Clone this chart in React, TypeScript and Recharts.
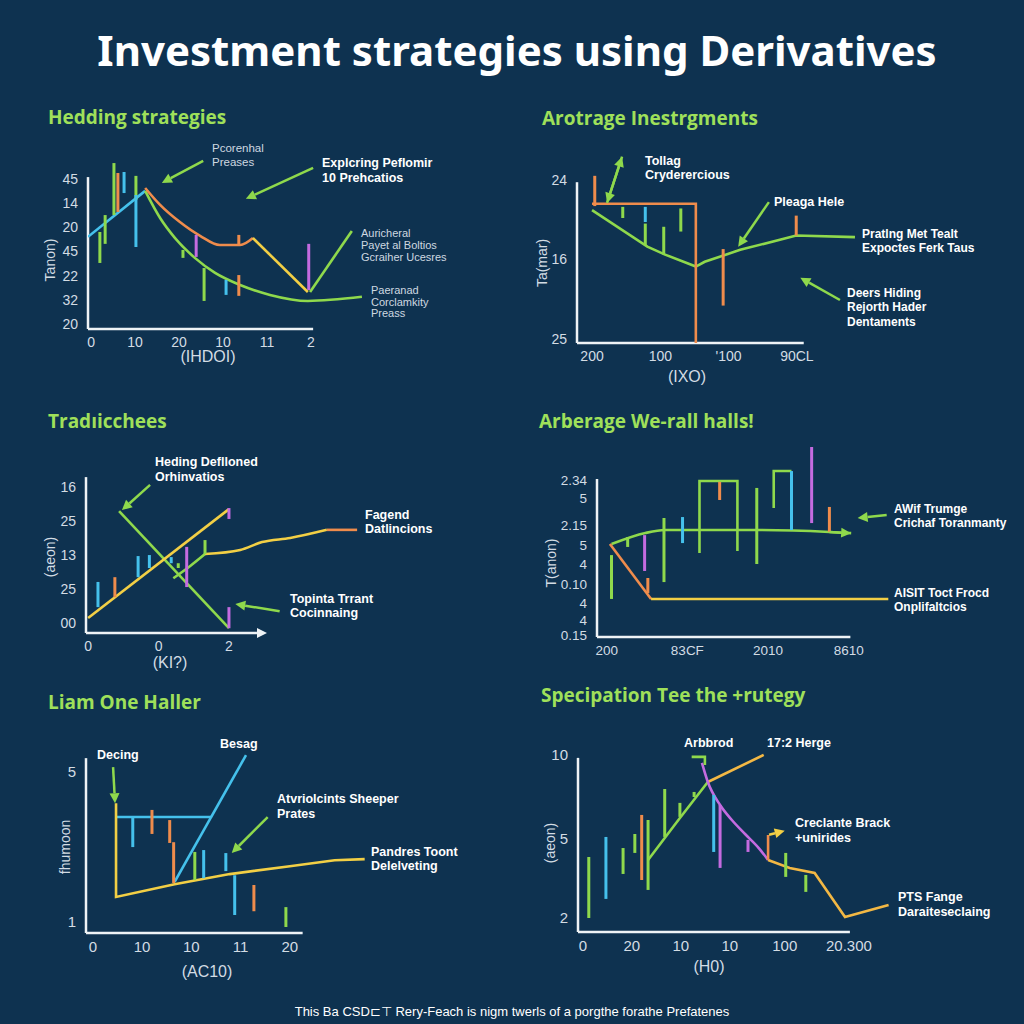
import React from "react";
import { ComposedChart, Line, XAxis, YAxis, ReferenceLine } from "recharts";

type Pt = { x: number; y: number };
type Seg = [number, number, number]; // x, from, to
type Arrow = [number, number, number, number]; // x1, y1 -> x2, y2 (head at the end)

const BG = "#0e3250";
const GREEN = "#8fd94c";
const BLUE = "#45c1ec";
const ORANGE = "#ef8c4c";
const YELLOW = "#f2cf45";
const AMBER = "#f3b844";
const PURPLE = "#c46be0";
const AXIS = "#eef3f6";
const TICK = "#d3dce4";
const TITLE_GREEN = "#9fe05a";
const FONT = "'Liberation Sans', Arial, sans-serif";

// ---- Panel 1: Hedding strategies
const P1_X_LABELS = ["0", "10", "20", "10", "11", "2"];
const P1_Y_LABELS = ["20", "32", "22", "45", "20", "14", "45"];
const P1_BLUE: Pt[] = [{ x: -0.07, y: 3.6 }, { x: 1.23, y: 5.5 }];
const P1_ORANGE: Pt[] = [
  { x: 1.23, y: 5.62 }, { x: 1.57, y: 4.92 }, { x: 2.02, y: 4.21 }, { x: 2.48, y: 3.64 },
  { x: 2.93, y: 3.26 }, { x: 3.39, y: 3.26 }, { x: 3.68, y: 3.55 },
];
const P1_YELLOW: Pt[] = [{ x: 3.68, y: 3.55 }, { x: 4.93, y: 1.32 }];
const P1_GREEN: Pt[] = [
  { x: 1.23, y: 5.5 }, { x: 1.57, y: 4.38 }, { x: 1.91, y: 3.55 }, { x: 2.36, y: 2.73 },
  { x: 2.82, y: 2.11 }, { x: 3.39, y: 1.61 }, { x: 4.07, y: 1.2 }, { x: 4.93, y: 0.95 },
  { x: 6.16, y: 1.12 },
];
const P1_POINTER: Pt[] = [{ x: 4.98, y: 1.32 }, { x: 5.93, y: 3.84 }];
const P1_GREEN_BARS: Seg[] = [[0.2, 2.52, 3.8], [0.32, 3.31, 4.5], [0.52, 4.5, 6.65], [1.02, 5.12, 6.12], [2.09, 2.73, 3.06], [2.57, 0.95, 2.31]];
const P1_ORANGE_BARS: Seg[] = [[0.61, 4.63, 6.24], [3.36, 1.16, 2.02], [3.36, 3.22, 3.68]];
const P1_BLUE_BARS: Seg[] = [[0.75, 5.41, 6.28], [1.02, 3.18, 5.33], [3.07, 1.2, 1.82]];
const P1_PURPLE_BARS: Seg[] = [[2.39, 2.77, 3.68], [4.95, 1.4, 3.31]];
const P1_ARROWS: Arrow[] = [[2.55, 6.74, 1.61, 5.83], [5.05, 6.45, 3.52, 5.17]];

// ---- Panel 2: Arotrage Inestrgments
const P2_X_LABELS = ["200", "100", "'100", "90CL"];
const P2_Y_LABELS = ["25", "16", "24"];
const P2_ORANGE: Pt[] = [{ x: 0, y: 1.7 }, { x: 1.52, y: 1.7 }, { x: 1.52, y: -0.05 }];
const P2_GREEN: Pt[] = [
  { x: 0, y: 1.62 }, { x: 0.81, y: 1.16 }, { x: 1.07, y: 1.06 }, { x: 1.52, y: 0.91 },
  { x: 1.65, y: 0.97 }, { x: 2.17, y: 1.12 }, { x: 2.99, y: 1.3 }, { x: 3.85, y: 1.28 },
];
const P2_ORANGE_BARS: Seg[] = [[0.04, 1.67, 2.05], [1.92, 0.42, 1.13], [2.99, 1.3, 1.55]];
const P2_GREEN_BARS: Seg[] = [[0.45, 1.52, 1.66], [0.78, 1.18, 1.45], [1.05, 1.06, 1.41], [1.3, 1.35, 1.64]];
const P2_BLUE_BARS: Seg[] = [[0.78, 1.47, 1.66]];
const P2_ARROWS: Arrow[] = [[0.22, 1.71, 0.44, 2.29], [0.44, 2.29, 0.22, 1.71], [2.59, 1.72, 2.14, 1.16], [3.63, 0.49, 3.05, 0.77]];

// ---- Panel 3: Tradıcchees
const P3_X_LABELS = ["0", "0", "2"];
const P3_Y_LABELS = ["00", "25", "13", "25", "16"];
const P3_YELLOW: Pt[] = [{ x: 0, y: 0.15 }, { x: 2, y: 3.35 }];
const P3_GREEN: Pt[] = [{ x: 0.44, y: 3.29 }, { x: 2, y: -0.15 }];
const P3_RISE_GREEN: Pt[] = [{ x: 1.21, y: 1.32 }, { x: 1.45, y: 1.68 }, { x: 1.66, y: 2.03 }];
const P3_RISE_YELLOW: Pt[] = [{ x: 1.66, y: 2.03 }, { x: 2.16, y: 2.15 }, { x: 2.47, y: 2.38 }, { x: 2.87, y: 2.5 }, { x: 3.39, y: 2.74 }];
const P3_RISE_ORANGE: Pt[] = [{ x: 3.39, y: 2.74 }, { x: 3.82, y: 2.74 }];
const P3_BLUE_BARS: Seg[] = [[0.14, 0.47, 1.21], [0.71, 1.35, 1.97], [0.87, 1.62, 2.0], [1.18, 1.76, 1.94]];
const P3_ORANGE_BARS: Seg[] = [[0.38, 0.76, 1.35]];
const P3_GREEN_BARS: Seg[] = [[1.28, 1.62, 1.76], [1.66, 2.03, 2.44]];
const P3_PURPLE_BARS: Seg[] = [[1.4, 1.06, 2.24], [2.0, 3.06, 3.38], [2.0, -0.15, 0.47]];
const P3_ARROWS: Arrow[] = [[0.88, 4.06, 0.48, 3.32], [2.72, 0.35, 2.09, 0.56]];

// ---- Panel 4: Arberage We-rall halls!
const P4_X_LABELS = ["200", "83CF", "2010", "8610"];
const P4_Y_TICKS = [0, 0.77, 1.65, 2.63, 3.66, 4.64, 5.67, 7.06, 8];
const P4_Y_LABELS = ["0.15", "4", "4", "0.10", "4", "5", "2.15", "5", "2.34"];
const P4_GREEN: Pt[] = [
  { x: 0.06, y: 4.69 }, { x: 0.48, y: 5.26 }, { x: 0.72, y: 5.41 }, { x: 1.9, y: 5.41 },
  { x: 2.76, y: 5.31 }, { x: 3.03, y: 5.25 },
];
const P4_ORANGE: Pt[] = [{ x: 0.04, y: 4.69 }, { x: 0.55, y: 1.86 }];
const P4_YELLOW: Pt[] = [{ x: 0.55, y: 1.86 }, { x: 3.49, y: 1.86 }];
const P4_BOX_A: Pt[] = [{ x: 1.15, y: 4.23 }, { x: 1.15, y: 7.94 }, { x: 1.62, y: 7.94 }, { x: 1.62, y: 4.33 }];
const P4_BOX_B: Pt[] = [{ x: 2.07, y: 6.55 }, { x: 2.07, y: 8.45 }, { x: 2.29, y: 8.45 }];
const P4_GREEN_BARS: Seg[] = [[0.06, 1.86, 4.12], [0.26, 4.54, 5.05], [0.71, 2.73, 6.03], [1.86, 3.66, 7.58]];
const P4_PURPLE_BARS: Seg[] = [[0.47, 3.3, 5.15], [2.54, 5.77, 9.69]];
const P4_ORANGE_BARS: Seg[] = [[0.51, 2.16, 2.94], [1.4, 6.96, 7.89], [2.76, 5.31, 6.6]];
const P4_BLUE_BARS: Seg[] = [[0.94, 4.74, 6.08], [2.29, 5.41, 8.45]];
const P4_ARROWS: Arrow[] = [[3.47, 6.19, 3.11, 6.03], [2.76, 5.31, 3.03, 5.25]];

// ---- Panel 5: Liam One Haller
const P5_X_LABELS = ["0", "10", "10", "11", "20"];
const P5_Y_LABELS = ["1", "5"];
const P5_YELLOW: Pt[] = [
  { x: 0.47, y: 4.17 }, { x: 0.47, y: 1.67 }, { x: 1.66, y: 2.01 }, { x: 2.78, y: 2.28 },
  { x: 4.0, y: 2.49 }, { x: 4.91, y: 2.65 }, { x: 5.52, y: 2.68 },
];
const P5_BLUE_FLAT: Pt[] = [{ x: 0.47, y: 3.8 }, { x: 2.4, y: 3.8 }];
const P5_BLUE_RISE: Pt[] = [{ x: 1.66, y: 2.07 }, { x: 3.11, y: 5.45 }];
const P5_BLUE_BARS: Seg[] = [[0.81, 3.0, 3.8], [2.25, 2.17, 2.92], [2.7, 2.36, 2.84], [2.88, 1.19, 2.25]];
const P5_ORANGE_BARS: Seg[] = [[1.2, 3.35, 3.99], [1.56, 3.11, 3.72], [1.64, 2.04, 3.13], [3.27, 1.29, 1.99]];
const P5_GREEN_BARS: Seg[] = [[2.07, 2.12, 2.87], [3.92, 0.87, 1.4]];
const P5_ARROWS: Arrow[] = [[0.41, 5.13, 0.45, 4.17], [3.55, 3.8, 2.82, 2.84]];

// ---- Panel 6: Specipation Tee the trutegy
const P6_X_TICKS = [0, 1, 2, 3, 4.12, 5.43];
const P6_X_LABELS = ["0", "20", "10", "10", "100", "20.300"];
const P6_Y_TICKS = [0, 4.85, 10];
const P6_Y_LABELS = ["2", "5", "10"];
const P6_GREEN: Pt[] = [{ x: 1.33, y: 3.56 }, { x: 1.98, y: 6.13 }, { x: 2.55, y: 8.34 }];
const P6_GOLD: Pt[] = [{ x: 2.55, y: 8.34 }, { x: 3.69, y: 10.0 }];
const P6_PURPLE: Pt[] = [
  { x: 2.43, y: 9.51 }, { x: 2.55, y: 8.34 }, { x: 2.8, y: 6.93 }, { x: 3.04, y: 6.01 },
  { x: 3.31, y: 5.15 }, { x: 3.59, y: 4.29 }, { x: 3.78, y: 3.56 },
];
const P6_ORANGE: Pt[] = [{ x: 3.78, y: 3.56 }, { x: 4.22, y: 3.07 }, { x: 4.73, y: 2.76 }, { x: 5.35, y: 0.06 }, { x: 6.24, y: 0.8 }];
const P6_HOOK: Pt[] = [{ x: 2.22, y: 9.88 }, { x: 2.49, y: 9.88 }, { x: 2.49, y: 9.39 }];
const P6_FLAG: Pt[] = [{ x: 3.78, y: 3.56 }, { x: 3.78, y: 5.09 }];
const P6_GREEN_BARS: Seg[] = [[0.12, 0, 3.74], [0.82, 2.7, 4.29], [1.06, 3.99, 5.15], [1.33, 1.72, 6.01], [1.67, 4.97, 7.91], [1.98, 6.2, 7.06], [2.27, 7.42, 7.73], [4.14, 2.52, 3.99], [4.55, 1.6, 2.64]];
const P6_BLUE_BARS: Seg[] = [[0.47, 1.17, 4.97], [2.67, 4.05, 7.55]];
const P6_ORANGE_BARS: Seg[] = [[1.2, 2.33, 6.32]];
const P6_PURPLE_BARS: Seg[] = [[2.8, 3.07, 6.93], [3.37, 4.05, 4.79]];
const P6_FLAG_ARROW: Arrow[] = [[3.8, 5.1, 4.12, 5.35]];

type Series = { data: Pt[]; color: string; curve?: "linear" | "monotone" };
type Bars = { data: Seg[]; color: string };
type Arrows = { data: Arrow[]; color: string };
type PanelCfg = {
  left: number; top: number; width: number; height: number;
  margin: { top: number; right: number; bottom: number; left: number };
  xDomain: [number, number]; yDomain: [number, number];
  xTicks: number[]; xLabels: string[]; yTicks: number[]; yLabels: string[];
  xAxis: [number, number]; yAxis: [number, number]; xArrow?: boolean;
  tickFont?: number;
  series: Series[]; bars: Bars[]; arrows: Arrows[];
};

const range = (n: number) => Array.from({ length: n }, (_, i) => i);

function arrowShape(color: string, head: boolean, w = 2.5) {
  return (p: any) => {
    const { x1, y1, x2, y2 } = p;
    const a = Math.atan2(y2 - y1, x2 - x1);
    const L = 10, W = 5;
    const bx = x2 - L * Math.cos(a), by = y2 - L * Math.sin(a);
    const px = -Math.sin(a) * W, py = Math.cos(a) * W;
    return (
      <g>
        <line x1={x1} y1={y1} x2={head ? bx : x2} y2={head ? by : y2} stroke={color} strokeWidth={w} />
        {head && <polygon points={`${x2},${y2} ${bx + px},${by + py} ${bx - px},${by - py}`} fill={color} />}
      </g>
    );
  };
}

function Panel({ cfg }: { cfg: PanelCfg }) {
  const tick = { fill: TICK, fontSize: cfg.tickFont ?? 14, fontFamily: FONT };
  const x0 = cfg.xDomain[0];
  const y0 = cfg.yDomain[0];
  // axes take 1px each so that their ticks are still drawn
  const margin = { ...cfg.margin, left: cfg.margin.left - 1, bottom: cfg.margin.bottom - 1 };
  return (
    <div style={{ position: "absolute", left: cfg.left, top: cfg.top }}>
      <ComposedChart width={cfg.width} height={cfg.height} margin={margin}>
        <XAxis type="number" dataKey="x" domain={cfg.xDomain} allowDataOverflow ticks={cfg.xTicks} interval={0}
          tickFormatter={(v: number) => cfg.xLabels[cfg.xTicks.indexOf(v)] ?? ""}
          axisLine={false} tickLine={false} tickSize={0} tickMargin={8} height={1} tick={tick} />
        <YAxis type="number" dataKey="y" domain={cfg.yDomain} allowDataOverflow ticks={cfg.yTicks} interval={0}
          tickFormatter={(v: number) => cfg.yLabels[cfg.yTicks.indexOf(v)] ?? ""}
          axisLine={false} tickLine={false} tickSize={0} tickMargin={10} width={1} tick={tick} />
        <ReferenceLine ifOverflow="visible" segment={[{ x: x0, y: y0 }, { x: cfg.xAxis[1], y: y0 }]}
          shape={arrowShape(AXIS, !!cfg.xArrow, 2.5)} />
        <ReferenceLine ifOverflow="visible" segment={[{ x: x0, y: y0 }, { x: x0, y: cfg.yAxis[1] }]}
          stroke={AXIS} strokeWidth={2.5} />
        {cfg.series.map((s, i) => (
          <Line key={"s" + i} data={s.data} dataKey="y" type={s.curve ?? "linear"} stroke={s.color}
            strokeWidth={2.6} dot={false} activeDot={false} isAnimationActive={false} />
        ))}
        {cfg.bars.flatMap((b, i) =>
          b.data.map((d, j) => (
            <ReferenceLine key={`b${i}-${j}`} ifOverflow="visible"
              segment={[{ x: d[0], y: d[1] }, { x: d[0], y: d[2] }]} stroke={b.color} strokeWidth={3} />
          ))
        )}
        {cfg.arrows.flatMap((a, i) =>
          a.data.map((d, j) => (
            <ReferenceLine key={`a${i}-${j}`} ifOverflow="visible"
              segment={[{ x: d[0], y: d[1] }, { x: d[2], y: d[3] }]} shape={arrowShape(a.color, true)} />
          ))
        )}
      </ComposedChart>
    </div>
  );
}

const PANELS: PanelCfg[] = [
  {
    left: 0, top: 100, width: 512, height: 290, margin: { top: 35, right: 12, bottom: 61, left: 88 },
    xDomain: [-0.07, 9.3], yDomain: [-0.21, 7.81], xTicks: range(6), xLabels: P1_X_LABELS,
    yTicks: range(7), yLabels: P1_Y_LABELS, xAxis: [-0.07, 5.05], yAxis: [-0.21, 6.07],
    series: [
      { data: P1_BLUE, color: BLUE },
      { data: P1_GREEN, color: GREEN, curve: "monotone" },
      { data: P1_ORANGE, color: ORANGE, curve: "monotone" },
      { data: P1_YELLOW, color: YELLOW },
      { data: P1_POINTER, color: GREEN },
    ],
    bars: [
      { data: P1_GREEN_BARS, color: GREEN }, { data: P1_ORANGE_BARS, color: ORANGE },
      { data: P1_BLUE_BARS, color: BLUE }, { data: P1_PURPLE_BARS, color: PURPLE },
    ],
    arrows: [{ data: P1_ARROWS, color: GREEN }],
  },
  {
    left: 512, top: 100, width: 512, height: 290, margin: { top: 40, right: 14, bottom: 47, left: 65 },
    xDomain: [-0.22, 6.12], yDomain: [-0.05, 2.5], xTicks: range(4), xLabels: P2_X_LABELS,
    yTicks: range(3), yLabels: P2_Y_LABELS, xAxis: [-0.22, 3.1], yAxis: [-0.05, 1.97],
    series: [
      { data: P2_GREEN, color: GREEN },
      { data: P2_ORANGE, color: ORANGE },
    ],
    bars: [
      { data: P2_ORANGE_BARS, color: ORANGE }, { data: P2_GREEN_BARS, color: GREEN },
      { data: P2_BLUE_BARS, color: BLUE },
    ],
    arrows: [{ data: P2_ARROWS, color: GREEN }],
  },
  {
    left: 0, top: 390, width: 512, height: 290, margin: { top: 50, right: 7, bottom: 47, left: 86 },
    xDomain: [-0.03, 5.92], yDomain: [-0.29, 5.38], xTicks: range(3), xLabels: P3_X_LABELS,
    yTicks: range(5), yLabels: P3_Y_LABELS, xAxis: [-0.03, 2.54], yAxis: [-0.29, 4.29], xArrow: true,
    series: [
      { data: P3_GREEN, color: GREEN },
      { data: P3_YELLOW, color: YELLOW },
      { data: P3_RISE_GREEN, color: GREEN, curve: "monotone" },
      { data: P3_RISE_YELLOW, color: YELLOW, curve: "monotone" },
      { data: P3_RISE_ORANGE, color: ORANGE },
    ],
    bars: [
      { data: P3_BLUE_BARS, color: BLUE }, { data: P3_ORANGE_BARS, color: ORANGE },
      { data: P3_GREEN_BARS, color: GREEN }, { data: P3_PURPLE_BARS, color: PURPLE },
    ],
    arrows: [{ data: P3_ARROWS, color: GREEN }],
  },
  {
    left: 512, top: 390, width: 512, height: 290, margin: { top: 50, right: 9, bottom: 43, left: 85 },
    xDomain: [-0.12, 5.06], yDomain: [-0.1, 10.05], xTicks: range(4), xLabels: P4_X_LABELS,
    yTicks: P4_Y_TICKS, yLabels: P4_Y_LABELS, xAxis: [-0.12, 3.02], yAxis: [-0.1, 8.04], tickFont: 13.5,
    series: [
      { data: P4_GREEN, color: GREEN, curve: "monotone" },
      { data: P4_ORANGE, color: ORANGE },
      { data: P4_YELLOW, color: YELLOW },
      { data: P4_BOX_A, color: GREEN },
      { data: P4_BOX_B, color: GREEN },
    ],
    bars: [
      { data: P4_GREEN_BARS, color: GREEN }, { data: P4_PURPLE_BARS, color: PURPLE },
      { data: P4_ORANGE_BARS, color: ORANGE }, { data: P4_BLUE_BARS, color: BLUE },
    ],
    arrows: [{ data: P4_ARROWS, color: GREEN }],
  },
  {
    left: 0, top: 680, width: 512, height: 310, margin: { top: 50, right: 7, bottom: 57, left: 86 },
    xDomain: [-0.14, 8.37], yDomain: [0.71, 6.12], xTicks: range(5), xLabels: P5_X_LABELS,
    yTicks: [1, 5], yLabels: P5_Y_LABELS, xAxis: [-0.14, 4.26], yAxis: [0.71, 5.37], tickFont: 15,
    series: [
      { data: P5_BLUE_FLAT, color: BLUE },
      { data: P5_BLUE_RISE, color: BLUE },
      { data: P5_YELLOW, color: YELLOW },
    ],
    bars: [
      { data: P5_BLUE_BARS, color: BLUE }, { data: P5_ORANGE_BARS, color: ORANGE },
      { data: P5_GREEN_BARS, color: GREEN },
    ],
    arrows: [{ data: P5_ARROWS, color: GREEN }],
  },
  {
    left: 512, top: 680, width: 512, height: 310, margin: { top: 50, right: 9, bottom: 58, left: 66 },
    xDomain: [-0.1, 8.82], yDomain: [-0.86, 11.53], xTicks: P6_X_TICKS, xLabels: P6_X_LABELS,
    yTicks: P6_Y_TICKS, yLabels: P6_Y_LABELS, xAxis: [-0.1, 5.45], yAxis: [-0.86, 9.82], tickFont: 15,
    series: [
      { data: P6_GREEN, color: GREEN },
      { data: P6_GOLD, color: AMBER },
      { data: P6_PURPLE, color: PURPLE, curve: "monotone" },
      { data: P6_ORANGE, color: AMBER },
      { data: P6_HOOK, color: GREEN },
      { data: P6_FLAG, color: ORANGE },
    ],
    bars: [
      { data: P6_GREEN_BARS, color: GREEN }, { data: P6_BLUE_BARS, color: BLUE },
      { data: P6_ORANGE_BARS, color: ORANGE }, { data: P6_PURPLE_BARS, color: PURPLE },
    ],
    arrows: [{ data: P6_FLAG_ARROW, color: YELLOW }],
  },
];

function Note({ x, y, lines, size = 12.5, bold = true, color = "#ffffff", lh = 15 }: {
  x: number; y: number; lines: string[]; size?: number; bold?: boolean; color?: string; lh?: number;
}) {
  return (
    <div style={{
      position: "absolute", left: x, top: y - lh / 2, fontSize: size, fontWeight: bold ? 700 : 400,
      color, lineHeight: `${lh}px`, whiteSpace: "nowrap", fontFamily: FONT,
    }}>
      {lines.map((l, i) => <div key={i}>{l}</div>)}
    </div>
  );
}

function PanelTitle({ x, y, text }: { x: number; y: number; text: string }) {
  return (
    <div style={{
      position: "absolute", left: x, top: y - 13, fontSize: 19, fontWeight: 700, color: TITLE_GREEN,
      lineHeight: "26px", whiteSpace: "nowrap", fontFamily: "'Open Sans', sans-serif",
    }}>{text}</div>
  );
}

function AxisText({ x, y, text, rotate = false, size = 16 }: { x: number; y: number; text: string; rotate?: boolean; size?: number }) {
  return (
    <div style={{
      position: "absolute", left: x, top: y, transform: `translate(-50%, -50%)${rotate ? " rotate(-90deg)" : ""}`,
      fontSize: size, color: TICK, whiteSpace: "nowrap", fontFamily: FONT, lineHeight: "20px",
    }}>{text}</div>
  );
}

const LIGHT = "#cfd8e0";

export default function App() {
  return (
    <div style={{ position: "absolute", left: 0, top: 0, width: 1024, height: 1024, background: BG, overflow: "hidden" }}>
      <div style={{
        position: "absolute", left: 0, top: 25, width: 1034, textAlign: "center", fontSize: 42, fontWeight: 700,
        color: "#ffffff", fontFamily: "'Noto Sans', sans-serif", lineHeight: "50px",
      }}>Investment strategies using Derivatives</div>

      {PANELS.map((p, i) => <Panel key={i} cfg={p} />)}

      <PanelTitle x={48} y={117} text="Hedding strategies" />
      <PanelTitle x={542} y={118} text="Arotrage Inestrgments" />
      <PanelTitle x={48} y={421} text="Tradıicchees" />
      <PanelTitle x={539} y={421} text="Arberage We-rall halls!" />
      <PanelTitle x={48} y={702} text="Liam One Haller" />
      <PanelTitle x={541} y={695} text="Specipation Tee the +rutegy" />

      <AxisText x={208} y={357} text="(IHDOI)" />
      <AxisText x={687} y={377} text="(IXO)" />
      <AxisText x={170} y={663} text="(KI?)" />
      <AxisText x={207} y={972} text="(AC10)" />
      <AxisText x={709} y={967} text="(H0)" />
      <AxisText x={50} y={260} text="Tanon)" rotate size={14} />
      <AxisText x={542} y={263} text="Ta(mar)" rotate size={14} />
      <AxisText x={50} y={557} text="(aeon)" rotate size={14} />
      <AxisText x={551} y={563} text="T(anon)" rotate size={14} />
      <AxisText x={65} y={847} text="fhumoon" rotate size={14} />
      <AxisText x={550} y={843} text="(aeon)" rotate size={14} />

      <Note x={212} y={148} lh={14} size={11.5} bold={false} color={LIGHT} lines={["Pcorenhal", "Preases"]} />
      <Note x={322} y={163} lines={["Explcring Peflomir", "10 Prehcatios"]} />
      <Note x={361} y={233} lh={12} size={11} bold={false} color={LIGHT} lines={["Auricheral", "Payet al Boltios", "Gcraiher Ucesres"]} />
      <Note x={371} y={291} lh={11.5} size={11} bold={false} color={LIGHT} lines={["Paeranad", "Corclamkity", "Preass"]} />

      <Note x={645} y={161} lh={14} lines={["Tollag", "Cryderercious"]} />
      <Note x={774} y={202} lines={["Pleaga Hele"]} />
      <Note x={862} y={234} lh={14} size={12} lines={["Pratlng Met Tealt", "Expoctes Ferk Taus"]} />
      <Note x={847} y={293} lh={14.5} size={12} lines={["Deers Hiding", "Rejorth Hader", "Dentaments"]} />

      <Note x={155} y={462} lines={["Heding Deflloned", "Orhinvatios"]} />
      <Note x={365} y={515} lh={14} lines={["Fagend", "Datlincions"]} />
      <Note x={290} y={599} lh={14} lines={["Topinta Trrant", "Cocinnaing"]} />

      <Note x={894} y={509} lh={14} size={12} lines={["AWif Trumge", "Crichaf Toranmanty"]} />
      <Note x={894} y={593} lh={14} size={12} lines={["AISIT Toct Frocd", "Onplifaltcios"]} />

      <Note x={97} y={755} lines={["Decing"]} />
      <Note x={220} y={744} lines={["Besag"]} />
      <Note x={277} y={799} lines={["Atvriolcints Sheeper", "Prates"]} />
      <Note x={371} y={852} lh={14.5} lines={["Pandres Toont", "Delelveting"]} />

      <Note x={684} y={743} lines={["Arbbrod"]} />
      <Note x={767} y={743} lines={["17:2 Herge"]} />
      <Note x={795} y={823} lines={["Creclante Brack", "+unirides"]} />
      <Note x={898} y={897} lines={["PTS Fange", "Daraiteseclaing"]} />

      <div style={{
        position: "absolute", left: 0, top: 1003, width: 1024, textAlign: "center", fontSize: 13,
        color: "#ffffff", fontFamily: FONT, lineHeight: "18px",
      }}>This Ba CSD⊏⊤ Rery-Feach is nigm twerls of a porgthe forathe Prefatenes</div>
    </div>
  );
}
